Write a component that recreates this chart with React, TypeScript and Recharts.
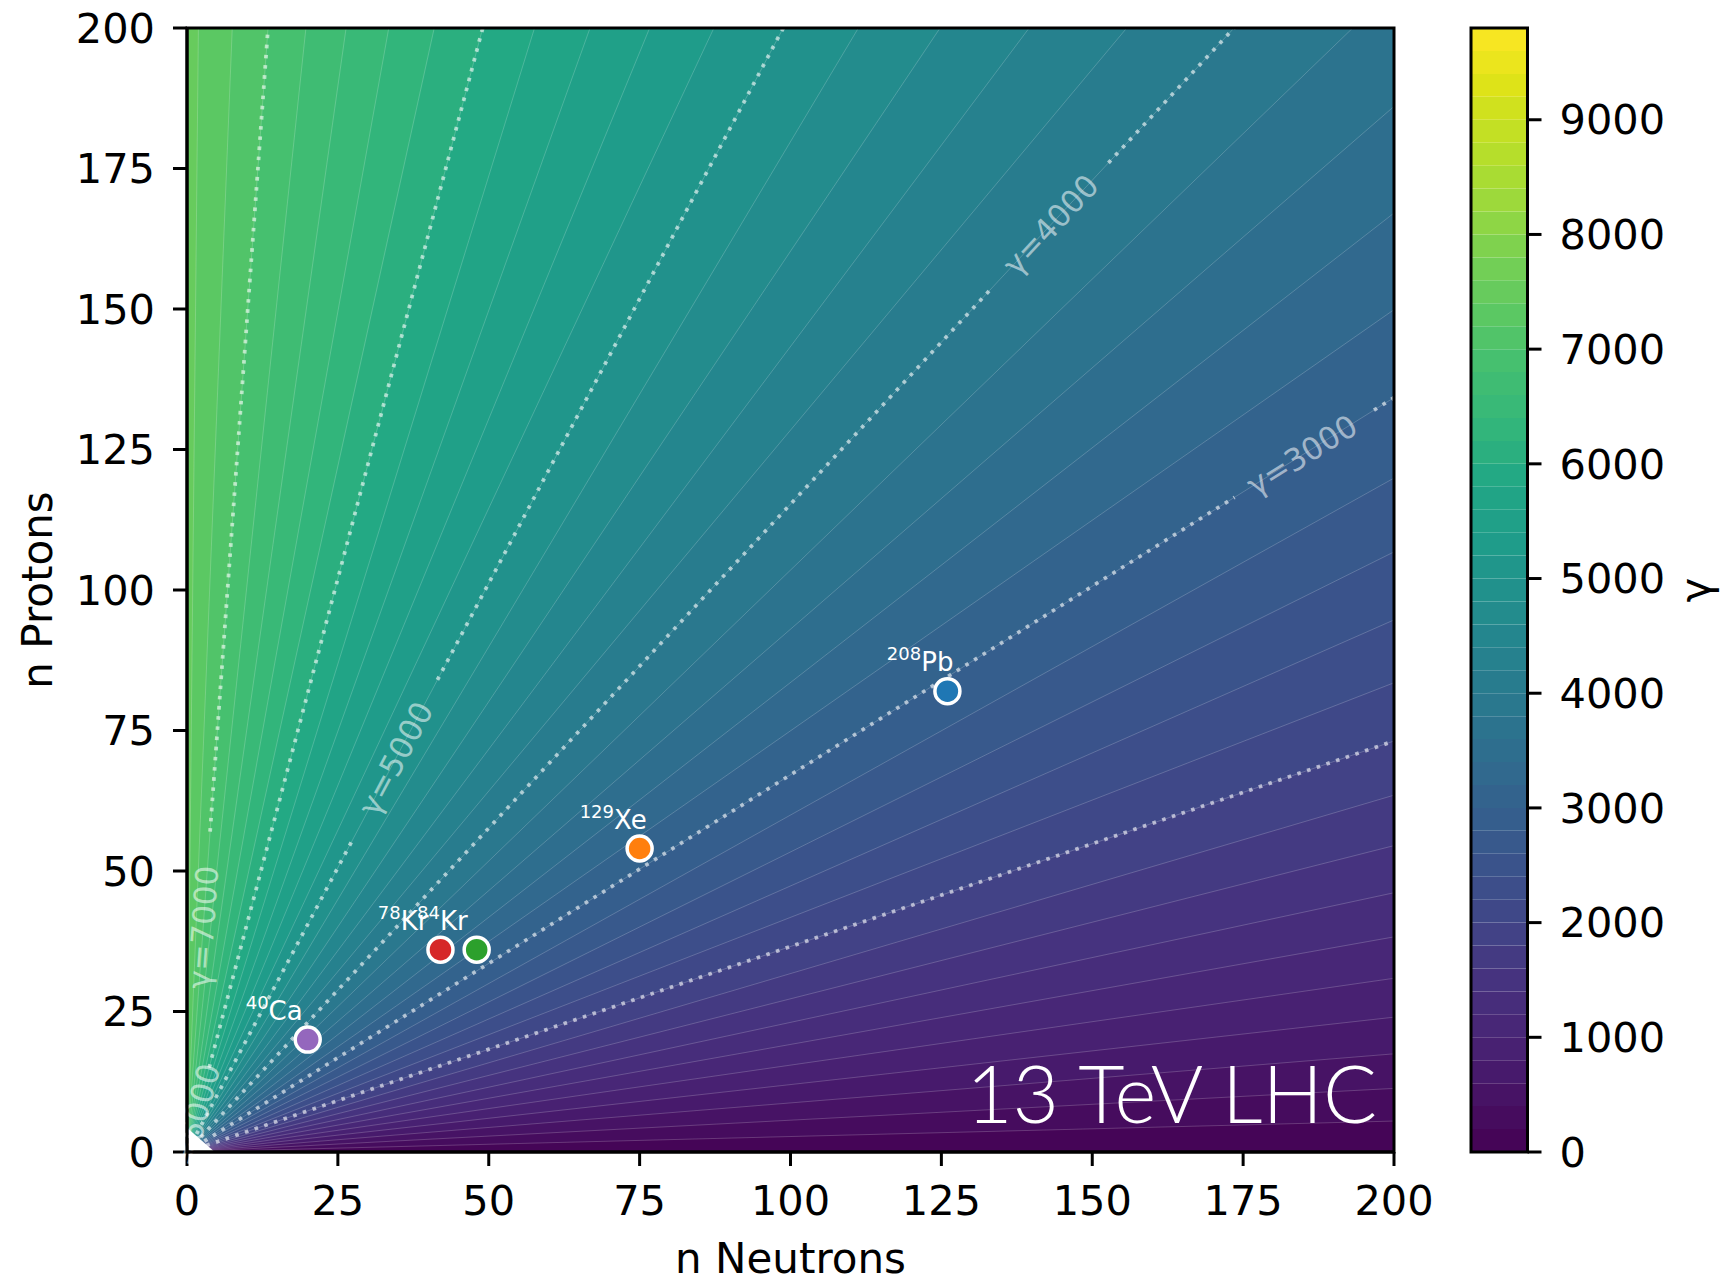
import React from 'react';
import {
  ComposedChart,
  Area,
  Line,
  Scatter,
  XAxis,
  YAxis,
  ReferenceArea,
  ReferenceDot,
  Label,
} from 'recharts';

// ------------------------------------------------------------------ data
// gamma of a fully stripped ion: GAMMA_SCALE * Z / (Z + N)  (scale read from contour positions)
const GAMMA_SCALE = 7470;
const gammaLevels = [
  0, 200, 400, 600, 800, 1000, 1200, 1400, 1600, 1800, 2000, 2200, 2400, 2600, 2800, 3000,
  3200, 3400, 3600, 3800, 4000, 4200, 4400, 4600, 4800, 5000, 5200, 5400, 5600, 5800, 6000,
  6200, 6400, 6600, 6800, 7000, 7200, 7400, 7600, 7800, 8000, 8200, 8400, 8600, 8800, 9000,
  9200, 9400, 9600, 9800,
];
const colorbarTicks = [0, 1000, 2000, 3000, 4000, 5000, 6000, 7000, 8000, 9000];
const axisTicks = [0, 25, 50, 75, 100, 125, 150, 175, 200];

const contourLineLevels = [2000, 3000, 4000, 5000, 6000, 7000];
const contourLabelText = ['', 'γ=3000', 'γ=4000', 'γ=5000', 'γ=6000', 'γ=7000'];
const contourLabelProtons = [null, 124, 165, 70, 5, 40];
const contourGapFrom = [null, 116.5, 154, 56, 0, 0];
const contourGapTo = [null, 132, 176, 84, 15, 57];

const nucleusNames = ['Ca', 'Kr', 'Kr', 'Xe', 'Pb'];
const massNumbers = ['40', '78', '84', '129', '208'];
const neutronCounts = [20, 42, 48, 75, 126];
const protonCounts = [20, 36, 36, 54, 82];
const nucleusColors = ['#9467bd', '#d62728', '#2ca02c', '#ff7f0e', '#1f77b4'];

const beamLabel = '13 TeV LHC';
const beamLabelPos = { n: 197.2, z: 5.2 };

// undefined-gamma corner cell at the origin
const cornerCell = [
  { x: 0, r: [0, 4.3] },
  { x: 4.6, r: [0, 0] },
];

// ------------------------------------------------------------------ style
const FONT = 'DejaVu Sans, Verdana, sans-serif';
const labelDx = [-5, -12, -9, 7, 6];
const PLOT_W = 1207;
const PLOT_H = 1124;
const PX_X = PLOT_W / 200;
const PX_Y = PLOT_H / 200;
const LEVEL_MAX = 9800;
const LEVEL_STEP = 200;

const VIRIDIS = [
  '#440154', '#471365', '#482475', '#46327e', '#414487', '#3b528b', '#355f8d', '#2f6c8e',
  '#2a788e', '#25848e', '#21918c', '#1f9e89', '#22a884', '#35b779', '#44bf70', '#5ec962',
  '#7ad151', '#9fda3a', '#bddf26', '#dfe318', '#fde725',
];
function hexToRgb(h: string) {
  return [parseInt(h.slice(1, 3), 16), parseInt(h.slice(3, 5), 16), parseInt(h.slice(5, 7), 16)];
}
function viridis(t: number) {
  const c = Math.min(1, Math.max(0, t)) * (VIRIDIS.length - 1);
  const i = Math.min(VIRIDIS.length - 2, Math.floor(c));
  const f = c - i;
  const a = hexToRgb(VIRIDIS[i]);
  const b = hexToRgb(VIRIDIS[i + 1]);
  const m = a.map((v, k) => Math.round(v + (b[k] - v) * f));
  return `rgb(${m[0]},${m[1]},${m[2]})`;
}

function slopeFor(level: number) {
  return level / (GAMMA_SCALE - level);
}
function edgeOf(s: number) {
  return s >= 1 ? { x: 200 / s, y: 200 } : { x: 200, y: 200 * s };
}

const tickStyle = { fontSize: 41.5, fill: '#000', fontFamily: FONT };
const axisLineStyle = { stroke: '#000', strokeWidth: 3 };

// ------------------------------------------------------------------ derived tables
const bandLevels = gammaLevels.slice(0, -1).filter((L) => L < GAMMA_SCALE);

const bandAreas = bandLevels.map((L) => {
  const color = viridis((L + LEVEL_STEP / 2) / LEVEL_MAX);
  let data: any[];
  if (L === 0) {
    data = [
      { x: 0, r: [0, 200] },
      { x: 200, r: [0, 200] },
    ];
  } else {
    const e = edgeOf(slopeFor(L));
    data = [
      { x: 0, r: [0, 200] },
      { x: e.x, r: [e.y, 200] },
    ];
    if (e.x < 200) data.push({ x: 200, r: [200, 200] });
  }
  return (
    <Area
      key={`band-${L}`}
      data={data}
      dataKey="r"
      type="linear"
      fill={color}
      fillOpacity={1}
      stroke="none"
      isAnimationActive={false}
    />
  );
});

const thinLines = bandLevels
  .filter((L) => L > 0)
  .map((L) => {
    const e = edgeOf(slopeFor(L));
    return (
      <Line
        key={`thin-${L}`}
        data={[
          { x: 0, y: 0 },
          { x: e.x, y: e.y },
        ]}
        dataKey="y"
        type="linear"
        stroke="#ffffff"
        strokeOpacity={0.22}
        strokeWidth={0.9}
        dot={false}
        activeDot={false}
        isAnimationActive={false}
      />
    );
  });

const dottedLines: any[] = [];
contourLineLevels.forEach((L, i) => {
  const s = slopeFor(L);
  const e = edgeOf(s);
  const segs: number[][] = [];
  const g0 = contourGapFrom[i];
  const g1 = contourGapTo[i];
  if (g0 === null || g1 === null) segs.push([0, e.y]);
  else {
    if (g0 > 0) segs.push([0, g0]);
    if (g1 < e.y) segs.push([g1, e.y]);
  }
  segs.forEach((sg, k) => {
    dottedLines.push(
      <Line
        key={`dot-${L}-${k}`}
        data={[
          { x: sg[0] / s, y: sg[0] },
          { x: sg[1] / s, y: sg[1] },
        ]}
        dataKey="y"
        type="linear"
        stroke="#ffffff"
        strokeOpacity={0.6}
        strokeWidth={3.8}
        strokeDasharray="3.6 6.6"
        dot={false}
        activeDot={false}
        isAnimationActive={false}
      />
    );
  });
});

const contourLabels = contourLineLevels
  .map((L, i) => {
    const z = contourLabelProtons[i];
    if (z === null) return null;
    const s = slopeFor(L);
    const ang = (Math.atan((s * PX_Y) / PX_X) * 180) / Math.PI;
    const text = contourLabelText[i];
    return (
      <ReferenceDot
        key={`lab-${L}`}
        x={z / s}
        y={z}
        r={0}
        ifOverflow="hidden"
        zIndex={650}
        shape={(p: any) => (
          <text
            x={p.cx}
            y={p.cy}
            transform={`rotate(${-ang} ${p.cx} ${p.cy})`}
            textAnchor="middle"
            dy="0.35em"
            fontSize={31}
            fontFamily={FONT}
            fill="#ffffff"
            fillOpacity={0.55}
          >
            {text}
          </text>
        )}
      />
    );
  })
  .filter(Boolean);

const nucleiData = neutronCounts.map((n, i) => ({
  x: n,
  y: protonCounts[i],
  name: nucleusNames[i],
  mass: massNumbers[i],
  color: nucleusColors[i],
  dx: labelDx[i],
}));

const renderNucleus = (p: any) => {
  const d = p.payload;
  return (
    <g>
      <circle cx={p.cx} cy={p.cy} r={12.5} fill={d.color} stroke="#ffffff" strokeWidth={3.5} />
      <text
        x={p.cx + d.dx}
        y={p.cy - 20}
        textAnchor="end"
        fill="#ffffff"
        fontFamily={FONT}
      >
        <tspan fontSize={18} dy={-11}>
          {d.mass}
        </tspan>
        <tspan fontSize={26} dy={11}>
          {d.name}
        </tspan>
      </text>
    </g>
  );
};

// ------------------------------------------------------------------ components
function MainPlot() {
  return (
    <ComposedChart
      width={1450}
      height={1276}
      margin={{ top: 28, right: 56, bottom: 0, left: 37 }}
    >
      <XAxis
        type="number"
        dataKey="x"
        domain={[0, 200]}
        ticks={axisTicks}
        interval={0}
        allowDataOverflow
        height={124}
        tickSize={14}
        tickMargin={20}
        axisLine={axisLineStyle}
        tickLine={axisLineStyle}
        tick={tickStyle}
      >
        <Label
          content={() => (
            <text x={790.5} y={1273} textAnchor="middle" fontSize={42} fontFamily={FONT} fill="#000">
              n Neutrons
            </text>
          )}
        />
      </XAxis>
      <YAxis
        type="number"
        domain={[0, 200]}
        ticks={axisTicks}
        interval={0}
        allowDataOverflow
        width={150}
        tickSize={14}
        tickMargin={18}
        axisLine={axisLineStyle}
        tickLine={axisLineStyle}
        tick={tickStyle}
      >
        <Label
          content={() => (
            <text
              x={52}
              y={590}
              transform="rotate(-90 52 590)"
              textAnchor="middle"
              fontSize={42}
              fontFamily={FONT}
              fill="#000"
            >
              n Protons
            </text>
          )}
        />
      </YAxis>
      {bandAreas}
      {thinLines}
      {dottedLines}
      <Area
        data={cornerCell}
        dataKey="r"
        type="linear"
        fill="#ffffff"
        fillOpacity={1}
        stroke="none"
        zIndex={450}
        isAnimationActive={false}
      />
      {contourLabels}
      <Scatter data={nucleiData} dataKey="y" shape={renderNucleus} isAnimationActive={false} />
      <ReferenceDot
        x={beamLabelPos.n}
        y={beamLabelPos.z}
        r={0}
        ifOverflow="visible"
        zIndex={650}
        shape={(p: any) => (
          <text
            x={p.cx}
            y={p.cy}
            textAnchor="end"
            fontSize={80}
            fontWeight={300}
            fontFamily="Lato, 'Open Sans', sans-serif"
            fill="#ffffff"
          >
            {beamLabel}
          </text>
        )}
      />
      <ReferenceArea
        x1={0}
        x2={200}
        y1={0}
        y2={200}
        fill="none"
        fillOpacity={0}
        stroke="#000"
        strokeWidth={3}
        ifOverflow="visible"
        zIndex={700}
      />
    </ComposedChart>
  );
}

function ColorBar() {
  const bands = gammaLevels.slice(0, -1).map((L) => (
    <ReferenceArea
      key={`cb-${L}`}
      x1={0}
      x2={1}
      y1={L}
      y2={L + LEVEL_STEP}
      fill={viridis((L + LEVEL_STEP / 2) / LEVEL_MAX)}
      fillOpacity={1}
      stroke="none"
      ifOverflow="visible"
    />
  ));
  return (
    <ComposedChart
      width={311}
      height={1276}
      data={[{ x: 0 }, { x: 1 }]}
      margin={{ top: 28, right: 53.5, bottom: 124, left: 51 }}
    >
      <XAxis type="number" dataKey="x" domain={[0, 1]} hide />
      <YAxis
        type="number"
        orientation="right"
        domain={[0, LEVEL_MAX]}
        ticks={colorbarTicks}
        interval={0}
        allowDataOverflow
        width={150}
        tickSize={14}
        tickMargin={18}
        axisLine={false}
        tickLine={axisLineStyle}
        tick={tickStyle}
      >
        <Label
          content={() => (
            <text
              x={290}
              y={590}
              transform="rotate(-90 290 590)"
              textAnchor="middle"
              fontSize={42}
              fontFamily={FONT}
              fill="#000"
            >
              γ
            </text>
          )}
        />
      </YAxis>
      {bands}
      <ReferenceArea
        x1={0}
        x2={1}
        y1={0}
        y2={LEVEL_MAX}
        fill="none"
        fillOpacity={0}
        stroke="#000"
        strokeWidth={3}
        ifOverflow="visible"
        zIndex={700}
      />
    </ComposedChart>
  );
}

export default function App() {
  return (
    <div style={{ position: 'absolute', left: 0, top: 0, width: 1731, height: 1276, background: '#fff', fontFamily: FONT }}>
      <div style={{ position: 'absolute', left: 0, top: 0 }}>
        <MainPlot />
      </div>
      <div style={{ position: 'absolute', left: 1420, top: 0 }}>
        <ColorBar />
      </div>
    </div>
  );
}
